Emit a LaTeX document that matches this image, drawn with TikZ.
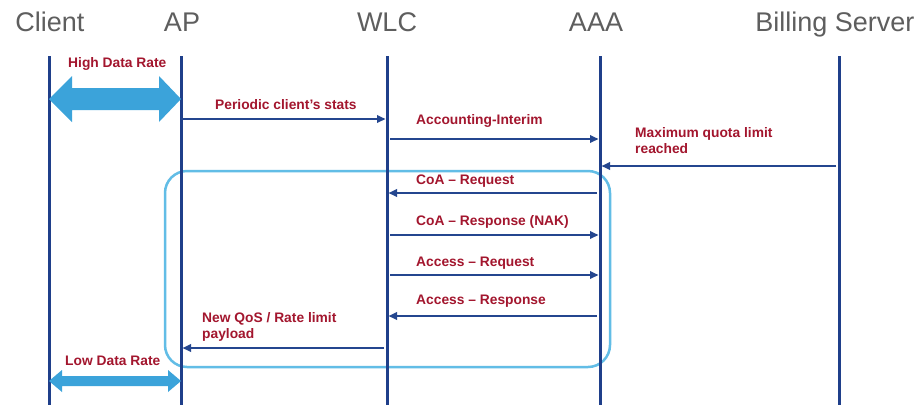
\documentclass[tikz,border=0pt]{standalone}
\usepackage{fontspec}
\setmainfont{Liberation Sans}
\usetikzlibrary{arrows.meta}
\definecolor{lifeblue}{HTML}{1F3F8A}
\definecolor{msgblue}{HTML}{24468F}
\definecolor{labelred}{HTML}{A3162E}
\definecolor{headgray}{HTML}{5E5E5E}
\definecolor{ratecyan}{HTML}{3BA3DA}
\definecolor{framecyan}{HTML}{62BDE6}
\begin{document}
\begin{tikzpicture}[x=1pt,y=-1pt,
  header/.style={font=\fontsize{27}{27}\selectfont, text=headgray, anchor=base, inner sep=0pt},
  lifeline/.style={draw=lifeblue, line width=3pt},
  msg/.style={draw=msgblue, line width=2pt, shorten <=3pt, shorten >=1.5pt,
              -{Triangle[length=8.5pt,width=7.5pt]}},
  lbl/.style={font=\fontsize{13.8}{16}\bfseries\selectfont, text=labelred,
              anchor=west, inner sep=0pt, align=left},
  rate/.style={fill=ratecyan, draw=none},
  phase/.style={draw=framecyan, line width=2.5pt, rounded corners=22pt},
]
\useasboundingbox (0,0) rectangle (923,405);
\fill[white] (0,0) rectangle (923,405);

% participants
\node[header] (hclient) at (50,31)  {Client};
\node[header] (hap)     at (182,31) {AP};
\node[header] (hwlc)    at (387,31) {WLC};
\node[header] (haaa)    at (596,31) {AAA};
\node[header] (hbill)   at (835,31) {Billing Server};

% lifeline anchors
\coordinate (client) at (49,56);  \coordinate (clientE) at (49,405);
\coordinate (ap)     at (181,56); \coordinate (apE)     at (181,405);
\coordinate (wlc)    at (387,56); \coordinate (wlcE)    at (387,405);
\coordinate (aaa)    at (600,56); \coordinate (aaaE)    at (600,405);
\coordinate (bill)   at (839,56); \coordinate (billE)   at (839,405);

% re-authorisation phase frame
\draw[phase] (165,171) rectangle (610,367);

% lifelines
\foreach \p in {client,ap,wlc,aaa,bill}
  \draw[lifeline] (\p) -- (\p E);

% data rate between client and AP
\fill[rate] (49,99) -- (72,76) -- (72,88) -- (159,88) -- (159,76) -- (181,99)
  -- (159,122) -- (159,110) -- (72,110) -- (72,122) -- cycle;
\fill[rate] (49,381) -- (62,370) -- (62,376) -- (168,376) -- (168,370) -- (181,381)
  -- (168,392) -- (168,386) -- (62,386) -- (62,392) -- cycle;
\node[lbl] (lhigh) at (68,64)  {High Data Rate};
\node[lbl] (llow)  at (65,361) {Low Data Rate};

% messages
\draw[msg, shorten <=0pt] (ap |- 0,119) -- (wlc |- 0,119);
\node[lbl] (l1) at (215,105) {Periodic client's stats};

\draw[msg] (wlc |- 0,139) -- (aaa |- 0,139);
\node[lbl] (l2) at (416,121) {Accounting-Interim};

\draw[msg] (bill |- 0,166) -- (aaa |- 0,166);
\node[lbl] (l3) at (635,141) {Maximum quota limit\\reached};

\draw[msg] (aaa |- 0,193) -- (wlc |- 0,193);
\node[lbl] (l4) at (416,181) {CoA – Request};

\draw[msg] (wlc |- 0,235) -- (aaa |- 0,235);
\node[lbl] (l5) at (416,222) {CoA – Response (NAK)};

\draw[msg] (wlc |- 0,275) -- (aaa |- 0,275);
\node[lbl] (l6) at (416,263) {Access – Request};

\draw[msg] (aaa |- 0,316) -- (wlc |- 0,316);
\node[lbl] (l7) at (416,301) {Access – Response};

\draw[msg] (wlc |- 0,348) -- (ap |- 0,348);
\node[lbl] (l8) at (202,327) {New QoS / Rate limit\\payload};
\end{tikzpicture}
\end{document}
